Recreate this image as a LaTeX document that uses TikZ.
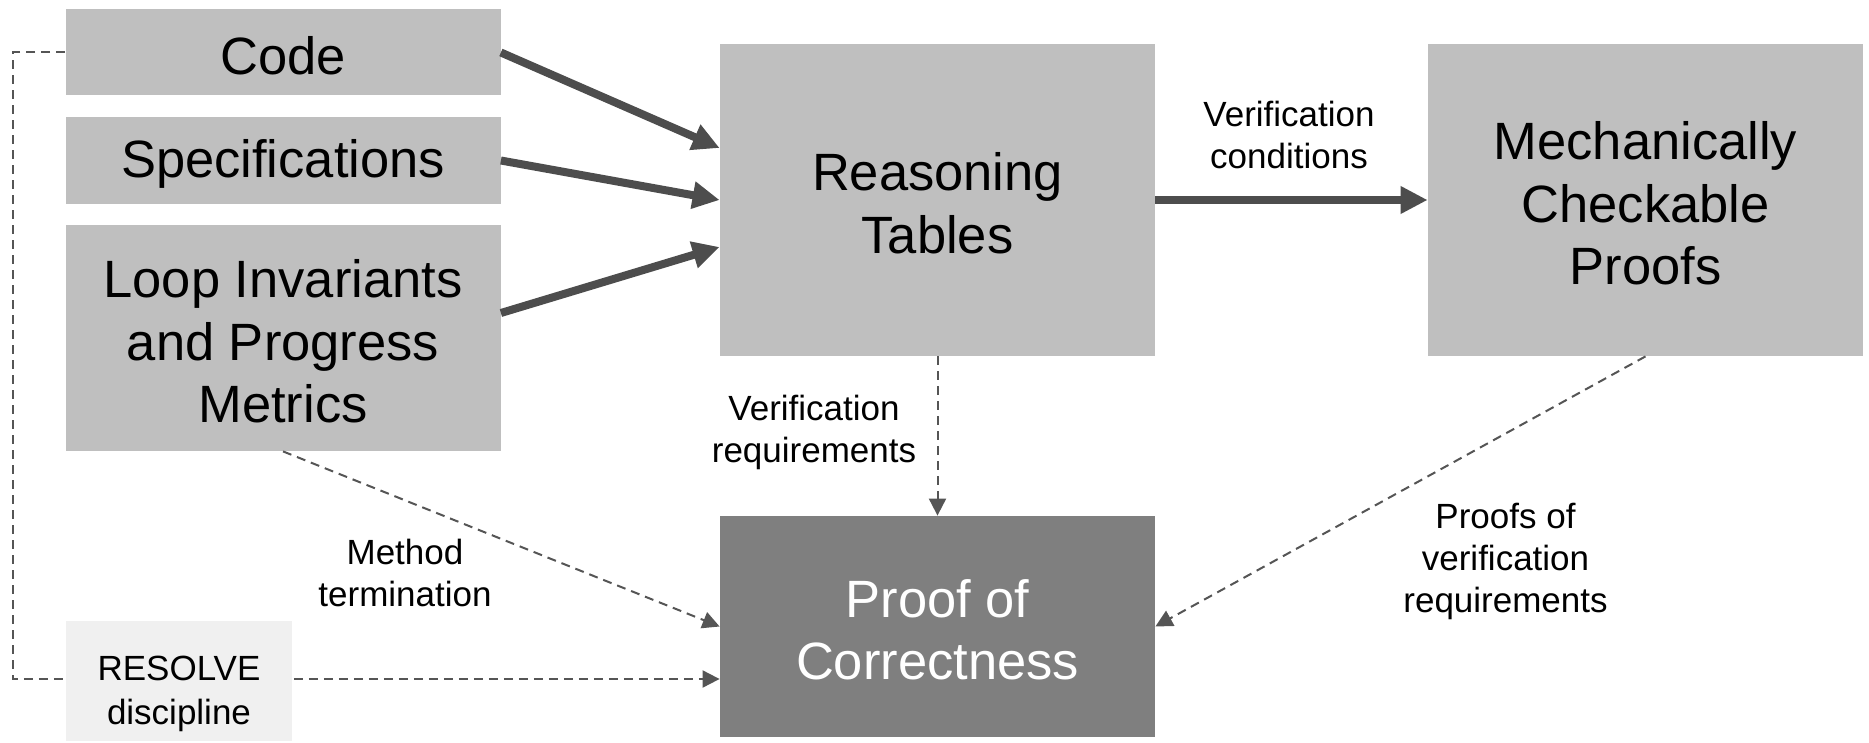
\documentclass[tikz,border=0pt]{standalone}
\usepackage{fontspec}
\setmainfont{Liberation Sans}
\usetikzlibrary{arrows.meta}
\definecolor{boxgray}{HTML}{BFBFBF}
\definecolor{darkbox}{HTML}{7F7F7F}
\definecolor{lightbox}{HTML}{F0F0F0}
\definecolor{arrowgray}{HTML}{4D4D4D}
\definecolor{dashgray}{HTML}{555555}
% zero-width rules on the first line set the text a little lower in its box
\newcommand\boxstrut{\rule{0pt}{22.4pt}}
\newcommand\softstrut{\rule{0pt}{25.5pt}}
\tikzset{
  box/.style={rectangle, fill=boxgray, inner sep=0pt, align=center,
    font=\fontsize{26.25pt}{31.3pt}\selectfont},
  darkbox/.style={box, fill=darkbox, text=white},
  softbox/.style={rectangle, fill=lightbox, inner sep=0pt, align=center,
    font=\fontsize{17.5pt}{22pt}\selectfont},
  caption/.style={inner sep=0pt, align=center,
    font=\fontsize{17.5pt}{21pt}\selectfont},
  flow/.style={draw=arrowgray, line width=4pt,
    -{Triangle[length=13.5pt, width=13pt]}},
  dashflow/.style={draw=dashgray, line width=1pt, dash pattern=on 4.5pt off 3pt,
    -{Triangle[length=8.5pt, width=8.5pt]}}
}
\begin{document}
\begin{tikzpicture}[x=0.5pt, y=-0.5pt]
  \useasboundingbox (0,0) rectangle (1869,743);

  % input artefacts
  \node[box, minimum width=217.5pt, minimum height=43pt] (code) at (283,52.5) {\boxstrut Code};
  \node[box, minimum width=217.5pt, minimum height=43.5pt] (spec) at (283,160.5) {\boxstrut Specifications};
  \node[box, minimum width=217.5pt, minimum height=113pt] (loop) at (283,338)
    {\boxstrut Loop Invariants\\and Progress\\Metrics};

  % processing stages
  \node[box, minimum width=217.5pt, minimum height=156pt] (reason) at (937.5,200)
    {\boxstrut Reasoning\\Tables};
  \node[box, minimum width=217.5pt, minimum height=156pt] (mech) at (1645.5,200)
    {\boxstrut Mechanically\\Checkable\\Proofs};
  \node[darkbox, minimum width=217.5pt, minimum height=110.5pt] (proof) at (937.5,626.5)
    {\boxstrut Proof of\\Correctness};

  % inputs feeding the reasoning tables
  \draw[flow] (code.east) -- ([yshift=26pt]reason.west);
  \draw[flow] (spec.east) -- (reason.west);
  \draw[flow] ([yshift=12.5pt]loop.east) -- ([yshift=-23.5pt]reason.west);
  \draw[flow] (reason.east) -- (mech.west);

  % dashed contributions to the proof
  \draw[dashflow] (reason.south) -- (proof.north);
  \draw[dashflow] (loop.south) -- (proof.west);
  \draw[dashflow] (mech.south) -- (proof.east);
  \coordinate (bend) at (12.7,0);
  \draw[dashflow] (code.west) -- (code.west -| bend) |- ([yshift=-26.25pt]proof.west);

  % discipline box sits on the dashed path
  \node[softbox, minimum width=113pt, minimum height=60pt] (resolve) at (179,681)
    {\softstrut RESOLVE\\discipline};

  % connector captions
  \node[caption] (vc) at (1289,134.5) {Verification\\conditions};
  \node[caption] (vr) at (814,432.5) {Verification\\requirements};
  \node[caption] (mt) at (405,572.5) {Method\\termination};
  \node[caption] (pv) at (1505.5,561.5) {Proofs of\\verification\\requirements};
\end{tikzpicture}
\end{document}
